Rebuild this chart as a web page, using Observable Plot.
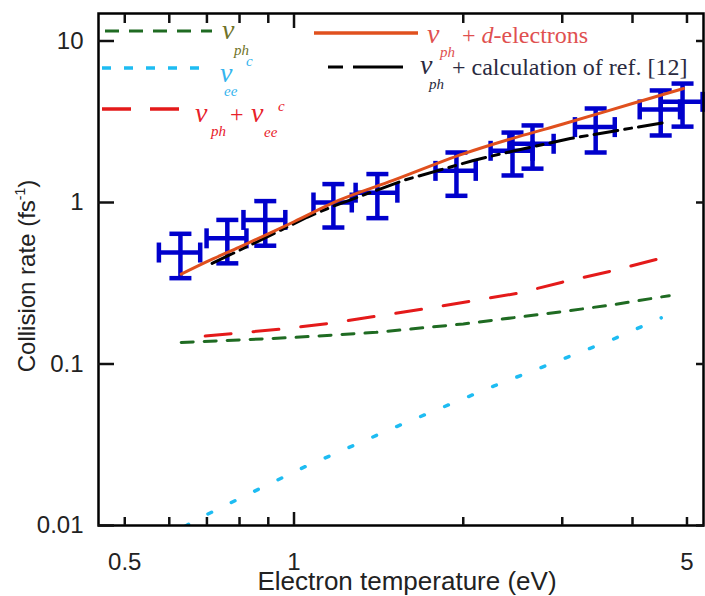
<!DOCTYPE html>
<html><head><meta charset="utf-8">
<script src="https://cdn.jsdelivr.net/npm/d3@7"></script>
<script src="https://cdn.jsdelivr.net/npm/@observablehq/plot@0.6"></script>
<style>
html,body{margin:0;padding:0;background:#fff;}
#chart{width:705px;height:596px;overflow:hidden;}
</style></head><body><div id="chart"></div>
<script>
// ---- experimental points (blue crosses) ----
const tempExp = [0.628, 0.761, 0.889, 1.175, 1.407, 1.945, 2.447, 2.656, 3.44, 4.49, 4.91];
const tempErr = [0.053, 0.062, 0.076, 0.092, 0.12, 0.16, 0.21, 0.24, 0.28, 0.37, 0.42];
const rateExp = [0.49, 0.60, 0.78, 1.0, 1.15, 1.57, 2.09, 2.31, 2.93, 3.77, 4.2];
const rateErr = [0.15, 0.18, 0.24, 0.30, 0.35, 0.47, 0.62, 0.69, 0.89, 1.17, 1.25];

// ---- curves ----
const phX = [0.63, 0.8, 1.0, 1.4, 2.0, 3.0, 3.7, 4.65];
const phY = [0.136, 0.141, 0.146, 0.157, 0.177, 0.211, 0.233, 0.265];
const eeX = [0.64, 0.70, 0.85, 1.04, 1.54, 2.27, 3.02, 3.69, 4.5];
const eeY = [0.0099, 0.0117, 0.0163, 0.0229, 0.0417, 0.0732, 0.108, 0.142, 0.193];
const sumX = [0.695, 0.94, 1.15, 1.7, 2.5, 3.0, 3.7, 4.45];
const sumY = [0.149, 0.164, 0.178, 0.219, 0.274, 0.321, 0.379, 0.448];
const dX = [0.63, 0.7, 0.8, 0.9, 1.0, 1.2, 1.5, 2.0, 2.5, 3.0, 4.0, 4.93];
const dY = [0.36, 0.43, 0.53, 0.64, 0.76, 1.03, 1.37, 2.0, 2.55, 3.05, 4.1, 5.08];
const refX = [0.715, 0.85, 1.055, 1.175, 1.565, 2.085, 2.33, 3.10, 4.57];
const refY = [0.42, 0.56, 0.81, 0.95, 1.37, 1.82, 2.0, 2.49, 3.13];

// ---- ticks ----
const xMinorTicks = [0.5, 0.6, 0.7, 0.8, 0.9, 2, 3, 4, 5];
const xMajorTicks = [1];
const xTickLabels = [0.5, 1, 5];
const yTicks = [0.01, 0.1, 1, 10];
const yTickLabels = ["0.01", "0.1", "1", "10"];

const xTitle = "Electron temperature (eV)";
const yTitle = "Collision rate (fs";

const pts = tempExp.map((x, i) => ({x, xe: tempErr[i], y: rateExp[i], ye: rateErr[i]}));
const toRows = (xs, ys) => xs.map((x, i) => ({x, y: ys[i]}));

const blue = "#0000cc";
const hcap = {draw(ctx, size) { const r = Math.sqrt(size / Math.PI); ctx.moveTo(-r, 0); ctx.lineTo(r, 0); }};
const vcap = {draw(ctx, size) { const r = Math.sqrt(size / Math.PI); ctx.moveTo(0, -r); ctx.lineTo(0, r); }};
const sans = "'Liberation Sans', Arial, Helvetica, sans-serif";

const chart = Plot.plot({
  width: 705, height: 596,
  marginTop: 13, marginBottom: 71, marginLeft: 98, marginRight: 2,
  style: {background: "#fff", color: "#111", fontFamily: sans},
  x: {type: "log", domain: [0.449, 5.35]},
  y: {type: "log", domain: [0.01, 14.8]},
  marks: [
    // error bars
    Plot.ruleX(pts, {x: "x", y1: d => d.y - d.ye, y2: d => d.y + d.ye, stroke: blue, strokeWidth: 4.5}),
    Plot.ruleY(pts, {y: "y", x1: d => d.x - d.xe, x2: d => d.x + d.xe, stroke: blue, strokeWidth: 4.5}),
    Plot.dot(pts, {x: "x", y: d => d.y - d.ye, symbol: hcap, r: 11, stroke: blue, strokeWidth: 4.5, fill: "none"}),
    Plot.dot(pts, {x: "x", y: d => d.y + d.ye, symbol: hcap, r: 11, stroke: blue, strokeWidth: 4.5, fill: "none"}),
    Plot.dot(pts, {x: d => d.x - d.xe, y: "y", symbol: vcap, r: 10, stroke: blue, strokeWidth: 4.5, fill: "none"}),
    Plot.dot(pts, {x: d => d.x + d.xe, y: "y", symbol: vcap, r: 10, stroke: blue, strokeWidth: 4.5, fill: "none"}),
    // curves
    Plot.line(toRows(phX, phY), {x: "x", y: "y", stroke: "#1f6b22", strokeWidth: 3, strokeDasharray: "12,11", clip: true}),
    Plot.line(toRows(eeX, eeY), {x: "x", y: "y", stroke: "#1ebcf2", strokeWidth: 3.5, strokeDasharray: "4,22", clip: true}),
    Plot.line(toRows(sumX, sumY), {x: "x", y: "y", stroke: "#e41a1a", strokeWidth: 3, strokeDasharray: "26,22", clip: true}),
    Plot.line(toRows(refX, refY), {x: "x", y: "y", stroke: "#000", strokeWidth: 3, strokeDasharray: "24,7,7,7", clip: true}),
    Plot.line(toRows(dX, dY), {x: "x", y: "y", stroke: "#e0501e", strokeWidth: 3, curve: "monotone-x", clip: true}),
    // frame and ticks (inward)
    Plot.frame({stroke: "#000", strokeWidth: 2.5}),
    Plot.axisX(xMinorTicks, {anchor: "bottom", tickSize: -8, strokeWidth: 2.5, fill: "none", label: null}),
    Plot.axisX(xMajorTicks, {anchor: "bottom", tickSize: -13, strokeWidth: 2.5, fill: "none", label: null}),
    Plot.axisX(xMinorTicks, {anchor: "top", tickSize: -9, strokeWidth: 2.5, fill: "none", label: null}),
    Plot.axisX(xMajorTicks, {anchor: "top", tickSize: -14, strokeWidth: 2.5, fill: "none", label: null}),
    Plot.axisX(xTickLabels, {anchor: "bottom", tickSize: 0, tickPadding: 27, fontSize: 24, fill: "#222", tickFormat: d => String(d), label: null}),
    Plot.axisY(yTicks, {anchor: "left", tickSize: -16, strokeWidth: 2.5, fill: "none", label: null}),
    Plot.axisY(yTicks, {anchor: "right", tickSize: -8, strokeWidth: 2.5, fill: "none", label: null}),
    Plot.axisY(yTicks, {anchor: "left", tickSize: 0, tickPadding: 15, fontSize: 24, fill: "#222", tickFormat: (d, i) => yTickLabels[yTicks.indexOf(d)], label: null})
  ]
});
document.getElementById("chart").appendChild(chart);

// ---- axis titles ----
const svg = d3.select(chart);
svg.append("text").attr("x", 407).attr("y", 590).attr("text-anchor", "middle")
  .attr("font-family", sans).attr("font-size", 26).attr("fill", "#222").text(xTitle);
const yl = svg.append("text").attr("transform", "translate(35,276) rotate(-90)").attr("text-anchor", "middle")
  .attr("font-family", sans).attr("font-size", 24).attr("fill", "#222");
yl.append("tspan").text(yTitle);
yl.append("tspan").attr("font-size", 14).attr("dy", -10).text("-1");
yl.append("tspan").attr("dy", 10).text(")");

// ---- legend (inside plot area) ----
const serif = "'Liberation Serif', 'Times New Roman', serif";
const lg = svg.append("g").attr("font-family", serif).attr("text-anchor", "start");
function sample(x1, x2, y, stroke, dash, w) {
  lg.append("line").attr("x1", x1).attr("x2", x2).attr("y1", y).attr("y2", y)
    .attr("stroke", stroke).attr("stroke-width", w).attr("stroke-dasharray", dash);
}
function txt(x, y, s, size, color, italic) {
  lg.append("text").attr("x", x).attr("y", y).attr("font-size", size).attr("fill", color)
    .attr("text-anchor", "start").attr("font-style", italic ? "italic" : "normal").text(s);
}
const cG = "#6f7328", cC = "#35b4ee", cR = "#e8202a", cO = "#e05050", cK = "#2a2a40";
sample(105, 212, 31, "#1f6b22", "14,10", 3);
txt(222, 39, "ν", 28, cG, true); txt(234, 55, "ph", 15, cG, true);
sample(102, 208, 68, "#1ebcf2", "9,13", 3.5);
txt(220, 82, "ν", 28, cC, true); txt(246, 66, "c", 15, cC, true); txt(224, 96, "ee", 15, cC, true);
sample(102, 179, 109, "#e41a1a", "29,19", 3.5);
txt(195, 122, "ν", 28, cR, true); txt(211, 136, "ph", 15, cR, true);
txt(230, 122, "+", 24, cR, false);
txt(251, 122, "ν", 28, cR, true); txt(264, 137, "ee", 15, cR, true); txt(278, 111, "c", 15, cR, true);
sample(314, 418, 33, "#e0501e", null, 3.5);
txt(427, 43, "ν", 28, cO, true); txt(440, 57, "ph", 15, cO, true);
const t4 = lg.append("text").attr("x", 462).attr("y", 43).attr("font-size", 24).attr("fill", cO).attr("text-anchor", "start");
t4.append("tspan").text("+ "); t4.append("tspan").attr("font-style", "italic").text("d"); t4.append("tspan").text("-electrons");
sample(328, 403, 67, "#000", "15,10,50,10", 3);
txt(420, 74, "ν", 28, cK, true); txt(429, 89, "ph", 15, cK, true);
txt(452, 75, "+ calculation of ref. [12]", 24, cK, false);
</script>
</body></html>
